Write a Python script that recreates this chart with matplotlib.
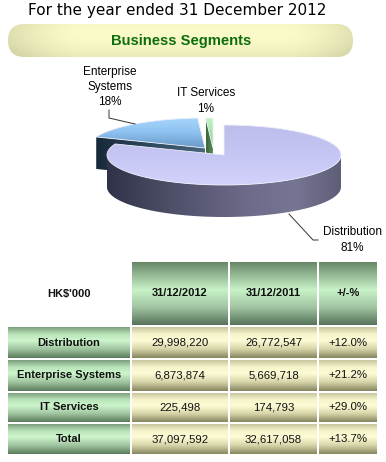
import numpy as np
import matplotlib
matplotlib.use("Agg")
import matplotlib.pyplot as plt
from matplotlib.patches import Polygon, FancyBboxPatch
from matplotlib.colors import LinearSegmentedColormap

# data
segments = ["Distribution", "Enterprise Systems", "IT Services"]
share_pct = [81, 18, 1]
pie_labels = ["Distribution\n81%", "Enterprise\nSystems\n18%", "IT Services\n1%"]

col_headers = ["HK$'000", "31/12/2012", "31/12/2011", "+/-%"]
row_labels = ["Distribution", "Enterprise Systems", "IT Services", "Total"]
rev_2012 = [29998220, 6873874, 225498, 37097592]
rev_2011 = [26772547, 5669718, 174793, 32617058]
change_pct = [12.0, 21.2, 29.0, 13.7]

ARIAL = "Liberation Sans"

fig = plt.figure(figsize=(3.86, 4.62), dpi=100)
ax = fig.add_axes([0, 0, 1, 1])
ax.set_axis_off()


def cmap_of(colors, stops=None):
    if stops is None:
        stops = np.linspace(0, 1, len(colors))
    return LinearSegmentedColormap.from_list("", list(zip(stops, colors)))


def shade(xy, colors, horizontal, z, stops=None, edge="none", lw=0.6):
    xy = np.asarray(xy, float)
    poly = Polygon(xy, closed=True, facecolor="none", edgecolor=edge, lw=lw, zorder=z + 0.01)
    ax.add_patch(poly)
    g = np.linspace(0, 1, 256)
    arr = g[None, :] if horizontal else g[:, None]
    x0, y0 = xy.min(0)
    x1, y1 = xy.max(0)
    im = ax.imshow(arr, cmap=cmap_of(colors, stops), extent=(x0, x1, y1, y0), origin="upper",
                   aspect="auto", interpolation="bilinear", zorder=z)
    im.set_clip_path(poly)


# title
ax.text(177, 11, "For the year ended 31 December 2012", ha="center", va="center",
        fontsize=11, family="DejaVu Sans", color="black", zorder=20)

# banner
bx0, by0, bx1, by1 = 8, 24, 353, 57
pill = FancyBboxPatch((bx0, by0), bx1 - bx0, by1 - by0,
                      boxstyle="round,pad=0,rounding_size=16.5", facecolor="none",
                      edgecolor="none", zorder=3)
ax.add_patch(pill)
u = np.linspace(0, 1, 300)[None, :]
v = np.linspace(0, 1, 60)[:, None]
dark = (0.17 * np.clip(1 - u / 0.22, 0, 1) ** 1.6 + 0.15 * np.clip((u - 0.8) / 0.2, 0, 1) ** 1.6
        + 0.12 * v ** 2 + 0.04 * (1 - v) ** 3)
base = np.array([1.0, 0.995, 0.80])
tint = np.array([0.80, 0.80, 0.62])
img = base[None, None, :] * (1 - dark[..., None] / 0.3) + tint[None, None, :] * (dark[..., None] / 0.3)
img = np.clip(img, 0, 1)
im = ax.imshow(img, extent=(bx0, bx1, by1, by0), origin="upper", aspect="auto",
               interpolation="bilinear", zorder=2)
im.set_clip_path(pill)
ax.text(181, 41, "Business Segments", ha="center", va="center", fontsize=10.6,
        fontweight="bold", family=ARIAL, color="#0c6e0c", zorder=20)

# 3D pie
cx, cy, rx, ry, depth = 224, 155, 117, 30, 32
offsets = [(0, 0), (-19, -7), (-11, -7)]
top_cols = [["#bebeec", "#c6c6f4", "#d2d2fb"], ["#a6d6fd", "#8cc0ee", "#6898c6"],
            ["#c4f4c4", "#a8e4a8", "#88c088"]]
side_cols = [["#30324a", "#46485f", "#5a5a76", "#6c6c8a", "#767694", "#5e5e78"],
             ["#203444", "#4a6478"], ["#4a7a4a", "#7aa87a"]]
face_cols = [["#2a2c40", "#505070"], ["#18283a", "#2e4a5e", "#48667c"], ["#3a663a", "#5e905e"]]

fr = np.array(share_pct, float) / sum(share_pct)
t_end = 90 - 360 * np.cumsum(fr)
t_start = np.r_[90, t_end[:-1]]


def rim(t, ox, oy, dz=0.0):
    r = np.radians(np.atleast_1d(t))
    return np.column_stack([cx + ox + rx * np.cos(r), cy + oy - ry * np.sin(r) + dz])


mid = (t_start + t_end) / 2
order = np.argsort(-np.sin(np.radians(mid)))
for k, i in enumerate(order):
    z = 4 + 3 * k
    ox, oy = offsets[i]
    apex = np.array([[cx + ox, cy + oy]])
    # outer side, front part only
    ts = np.linspace(t_end[i], t_start[i], 500)
    front = np.sin(np.radians(ts)) < 0
    if front.any():
        idx = np.where(front)[0]
        runs = np.split(idx, np.where(np.diff(idx) > 1)[0] + 1)
        for run in runs:
            tt = ts[run]
            xy = np.vstack([rim(tt, ox, oy), rim(tt[::-1], ox, oy, depth)])
            shade(xy, side_cols[i], True, z)
    # cut faces
    for t_edge, normal in ((t_start[i], t_start[i] + 90), (t_end[i], t_end[i] - 90)):
        if np.sin(np.radians(normal)) < -1e-6:
            p = rim(t_edge, ox, oy)[0]
            xy = np.array([apex[0], p, p + [0, depth], apex[0] + [0, depth]])
            shade(xy, face_cols[i], True, z + 0.5)
    # top face
    tt = np.linspace(t_start[i], t_end[i], 300)
    xy = np.vstack([apex, rim(tt, ox, oy)])
    shade(xy, top_cols[i], False, z + 1, edge="#eeeefa", lw=0.6)

# pie labels and leaders
ax.text(352, 240, pie_labels[0], ha="center", va="center", fontsize=8.5, family=ARIAL,
        linespacing=1.35, zorder=20)
ax.text(110, 87, pie_labels[1], ha="center", va="center", fontsize=8.5, family=ARIAL,
        linespacing=1.35, zorder=20)
ax.text(206, 101, pie_labels[2], ha="center", va="center", fontsize=8.5, family=ARIAL,
        linespacing=1.35, zorder=20)
ax.plot([109, 109, 135], [110, 118, 124], color="#333333", lw=0.7, zorder=20)
ax.plot([289, 313, 318], [214, 240, 240], color="#333333", lw=0.7, zorder=20)

# table
col_x = [7, 131, 229, 318, 378]
row_y = [261, 326, 359, 392, 423, 455]
hdr_cols = ["#648464", "#9cc09c", "#c8f2c8", "#a2c6a2", "#56725a"]
lbl_cols = ["#749474", "#b8e2b8", "#cdf6cd", "#a0c4a0", "#5a7a5a"]
dat_cols = ["#c0be98", "#f6f4ca", "#fefcd6", "#d6d4a8", "#86845e"]
stops = [0, 0.25, 0.45, 0.72, 1]
gap = 0.9


def cell(c, r, colors):
    x0, x1 = col_x[c] + gap, col_x[c + 1] - gap
    y0, y1 = row_y[r] + gap, row_y[r + 1] - gap
    shade([[x0, y0], [x1, y0], [x1, y1], [x0, y1]], colors, False, 2, stops=stops)


def cell_text(c, r, s, bold, size):
    xm = (col_x[c] + col_x[c + 1]) / 2
    ym = (row_y[r] + row_y[r + 1]) / 2
    ax.text(xm, ym, s, ha="center", va="center", fontsize=size, family=ARIAL,
            fontweight="bold" if bold else "normal", color="#111111", zorder=20)


for c, h in enumerate(col_headers):
    if c > 0:
        cell(c, 0, hdr_cols)
    cell_text(c, 0, h, True, 8)

for r, lab in enumerate(row_labels, start=1):
    cell(0, r, lbl_cols)
    cell_text(0, r, lab, True, 8)
    vals = [f"{rev_2012[r - 1]:,}", f"{rev_2011[r - 1]:,}", f"{change_pct[r - 1]:+.1f}%"]
    for c, s in enumerate(vals, start=1):
        cell(c, r, dat_cols)
        cell_text(c, r, s, False, 8.2)

ax.set_xlim(0, 386)
ax.set_ylim(462, 0)
fig.savefig("out.png", dpi=100, facecolor="white")
